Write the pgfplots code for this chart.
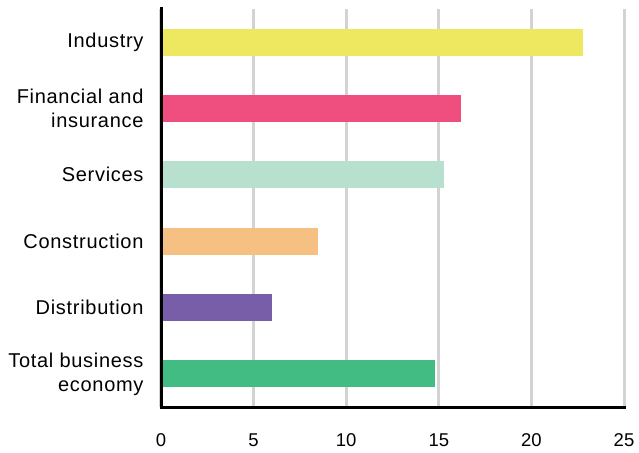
\documentclass[border=0pt]{standalone}
\usepackage{fontspec}
\setmainfont{Liberation Sans}
\usepackage{pgfplots}
\pgfplotsset{compat=1.18}
\definecolor{cInd}{HTML}{EDE85F}
\definecolor{cFin}{HTML}{EF4F7E}
\definecolor{cSer}{HTML}{B7E0CF}
\definecolor{cCon}{HTML}{F7C083}
\definecolor{cDis}{HTML}{785EA8}
\definecolor{cTot}{HTML}{43BC84}
\definecolor{cGrid}{HTML}{D3D3D3}
\begin{document}
\begin{tikzpicture}
\useasboundingbox (-161pt,-45pt) rectangle (478pt,407pt);
\begin{axis}[
  at={(0,0)}, anchor=south west,
  scale only axis,
  width=463pt, height=398pt,
  xmin=0, xmax=25, ymin=-0.5, ymax=5.5,
  xtick={0,5,10,15,20,25},
  ytick={0,1,2,3,4,5},
  yticklabels={{Total business\\economy},Distribution,Construction,Services,{Financial and\\insurance},Industry},
  axis x line*=bottom, axis y line*=left,
  axis line style={draw=none},
  major tick length=0pt,
  xmajorgrids, major grid style={cGrid, line width=3pt},
  /pgf/number format/assume math mode=true,
  xticklabel style={font=\fontsize{18.5}{23}\selectfont, text=black, yshift=-23pt},
  yticklabel style={font=\fontsize{20}{24}\selectfont\addfontfeature{LetterSpace=3.5}, text=black, align=right, xshift=-14pt},
  xbar, bar width=27pt, bar shift=0pt,
  clip=false,
]
\addplot[fill=cTot, draw=none] coordinates {(14.8,0)};
\addplot[fill=cDis, draw=none] coordinates {(6.0,1)};
\addplot[fill=cCon, draw=none] coordinates {(8.5,2)};
\addplot[fill=cSer, draw=none] coordinates {(15.3,3)};
\addplot[fill=cFin, draw=none] coordinates {(16.2,4)};
\addplot[fill=cInd, draw=none] coordinates {(22.8,5)};
\end{axis}
\draw[black, line width=3pt, line cap=rect] (0pt,398pt) -- (0pt,0pt) -- (463pt,0pt);
\end{tikzpicture}
\end{document}
